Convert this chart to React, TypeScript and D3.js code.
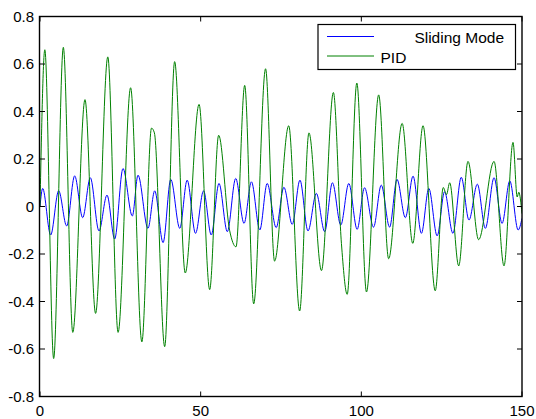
import React from "react";
import * as d3 from "d3";

// Sliding Mode series: key extrema (time, value)
const smTime = [0, 0.83, 3.32, 5.81, 8.3, 10.79, 13.28, 15.66, 18.36, 20.85, 23.24, 25.83, 28.73, 30.5, 33.6, 35.7, 38.3, 40.7, 43.5, 45.8, 48.4, 50.9, 53.3, 55.7, 58.3, 60.9, 63.5, 65.8, 68.4, 70.7, 73.5, 75.9, 78.5, 80.9, 83.4, 86.0, 88.6, 91.0, 93.6, 96.1, 98.7, 101.0, 103.8, 106.2, 108.8, 111.1, 113.7, 116.1, 118.7, 121.0, 123.6, 125.9, 128.5, 131.1, 133.5, 136.1, 138.6, 141.3, 143.8, 146.2, 148.8, 150];
const smValue = [0.0, 0.076, -0.12, 0.066, -0.082, 0.129, -0.047, 0.121, -0.103, 0.048, -0.137, 0.16, -0.04, 0.132, -0.092, 0.066, -0.152, 0.114, -0.092, 0.111, -0.113, 0.066, -0.12, 0.097, -0.106, 0.118, -0.071, 0.104, -0.099, 0.097, -0.089, 0.081, -0.075, 0.111, -0.103, 0.055, -0.106, 0.1, -0.078, 0.097, -0.096, 0.079, -0.087, 0.09, -0.087, 0.114, -0.047, 0.128, -0.113, 0.076, -0.124, 0.062, -0.113, 0.123, -0.057, 0.094, -0.092, 0.121, -0.071, 0.108, -0.099, -0.05];

// PID series: key extrema (time, value)
const pidTime = [0, 1.5, 4.25, 7.26, 10.2, 14.0, 17.3, 21.1, 24.3, 28.2, 31.7, 34.7, 35.6, 38.8, 41.9, 45.2, 49.5, 52.8, 55.6, 59.0, 61.0, 63.7, 66.5, 70.2, 73.0, 77.4, 80.8, 83.7, 87.6, 91.3, 93.8, 95.6, 98.6, 101.6, 105.4, 108.5, 112.7, 116.0, 119.2, 123.0, 125.5, 126.5, 127.5, 130.3, 133.2, 136.5, 141.3, 144.4, 147.2, 148.5, 149.0, 150];
const pidValue = [0.0, 0.66, -0.64, 0.67, -0.53, 0.45, -0.45, 0.63, -0.53, 0.5, -0.57, 0.33, 0.31, -0.59, 0.61, -0.28, 0.43, -0.35, 0.3, -0.1, -0.17, 0.51, -0.41, 0.58, -0.23, 0.34, -0.44, 0.31, -0.27, 0.48, -0.155, -0.37, 0.52, -0.36, 0.47, -0.22, 0.35, -0.155, 0.34, -0.355, 0.08, 0.05, 0.1, -0.25, 0.19, -0.14, 0.19, -0.25, 0.27, 0.04, 0.06, -0.03];

const xTicks = [0, 50, 100, 150];
const xTickLabels = ["0", "50", "100", "150"];
const yTicks = [-0.8, -0.6, -0.4, -0.2, 0, 0.2, 0.4, 0.6, 0.8];
const yTickLabels = ["-0.8", "-0.6", "-0.4", "-0.2", "0", "0.2", "0.4", "0.6", "0.8"];
const seriesNames = ["Sliding Mode", "PID"];
const seriesColors = ["#0000ff", "#008000"];

export default function App() {
  const W = 536, H = 419;
  const left = 40, right = 522, top = 16.5, bottom = 396.5;
  const x = d3.scaleLinear().domain([0, 150]).range([left, right]);
  const y = d3.scaleLinear().domain([-0.8, 0.8]).range([bottom, top]);
  const line = d3
    .line<[number, number]>()
    .x((d) => x(d[0]))
    .y((d) => y(d[1]))
    .curve(d3.curveMonotoneX);
  const sm = smTime.map((t, i) => [t, smValue[i]] as [number, number]);
  const pid = pidTime.map((t, i) => [t, pidValue[i]] as [number, number]);
  const font = "Arial, 'Liberation Sans', Helvetica, sans-serif";
  const tl = 5;
  return (
    <svg
      width={W}
      height={H}
      style={{ position: "absolute", left: 0, top: 0, background: "#fff" }}
      fontFamily={font}
    >
      <rect x={0} y={0} width={W} height={H} fill="#fff" />
      <defs>
        <clipPath id="plotclip">
          <rect x={left} y={top} width={right - left} height={bottom - top} />
        </clipPath>
      </defs>
      <g clipPath="url(#plotclip)">
        <path d={line(sm) || ""} fill="none" stroke={seriesColors[0]} strokeWidth={1} />
        <path d={line(pid) || ""} fill="none" stroke={seriesColors[1]} strokeWidth={1} />
      </g>
      {/* frame */}
      <rect x={left - 0.5} y={top} width={right - left + 0.5} height={bottom - top} fill="none" stroke="#000" strokeWidth={1.4} />
      {/* x ticks */}
      {xTicks.map((t, i) => (
        <g key={"xt" + i}>
          <line x1={x(t)} x2={x(t)} y1={bottom} y2={bottom - tl} stroke="#000" strokeWidth={1} />
          <line x1={x(t)} x2={x(t)} y1={top} y2={top + tl} stroke="#000" strokeWidth={1} />
          <text x={x(t)} y={bottom + 19} fontSize={15} textAnchor="middle" fill="#000">
            {xTickLabels[i]}
          </text>
        </g>
      ))}
      {/* y ticks */}
      {yTicks.map((t, i) => (
        <g key={"yt" + i}>
          <line x1={left} x2={left + tl} y1={y(t)} y2={y(t)} stroke="#000" strokeWidth={1} />
          <line x1={right} x2={right - tl} y1={y(t)} y2={y(t)} stroke="#000" strokeWidth={1} />
          <text x={left - 6} y={y(t)} dy="0.36em" fontSize={15} textAnchor="end" fill="#000">
            {yTickLabels[i]}
          </text>
        </g>
      ))}
      {/* legend */}
      <g>
        <rect x={318} y={24.5} width={197.5} height={45} fill="#fff" stroke="#000" strokeWidth={1.2} />
        <line x1={327} x2={374} y1={36.5} y2={36.5} stroke={seriesColors[0]} strokeWidth={1} />
        <line x1={327} x2={374} y1={56} y2={56} stroke={seriesColors[1]} strokeWidth={1} />
        <text x={504} y={43.3} fontSize={15.5} textAnchor="end" fill="#000">
          {seriesNames[0]}
        </text>
        <text x={380.5} y={63.3} fontSize={15.5} fill="#000">
          {seriesNames[1]}
        </text>
      </g>
    </svg>
  );
}
